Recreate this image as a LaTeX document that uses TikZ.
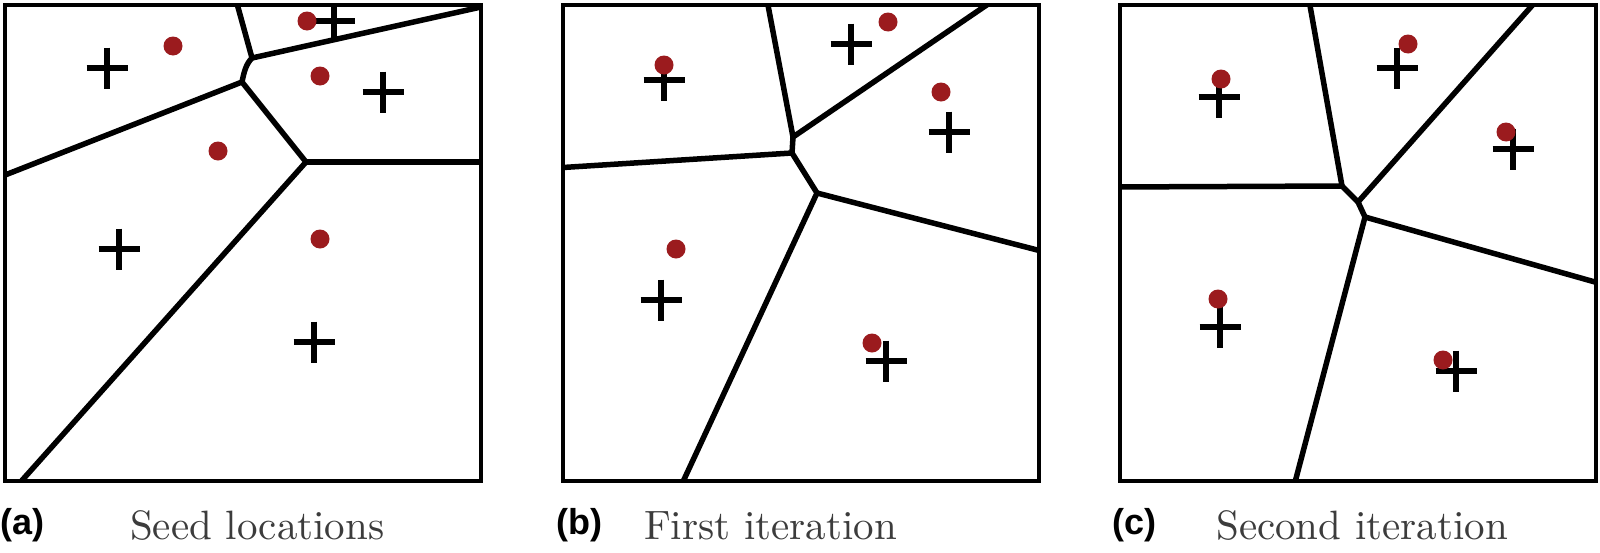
\documentclass[tikz,border=0pt]{standalone}
\usepackage{fontspec}
\newfontfamily\labfont{Liberation Sans}
\newfontfamily\capfont{lmroman10-regular.otf}
\definecolor{seedred}{RGB}{155,27,30}
\definecolor{capgray}{RGB}{60,60,60}
\begin{document}
\begin{tikzpicture}[x=1pt,y=-1pt,
  frame/.style={line width=4pt,draw=black},
  cellline/.style={line width=5.5pt,draw=black,line join=round},
  seed/.style={fill=seedred,draw=none},
  centroid/.style={line width=6.5pt,draw=black,line cap=butt},
  sublabel/.style={inner sep=0pt,anchor=base west,font={\labfont\bfseries\fontsize{36}{42}\selectfont}},
  caption/.style={inner sep=0pt,anchor=base west,text=capgray,font={\capfont\fontsize{41}{48}\selectfont}}]
\useasboundingbox (0,0) rectangle (1600,552);
\fill[white] (0,0) rectangle (1600,552);
\newcommand{\plusmark}[2]{\draw[centroid] (#1-20.5,#2) -- (#1+20.5,#2) (#1,#2-20.5) -- (#1,#2+20.5);}
\newcommand{\seeddot}[2]{\fill[seed] (#1,#2) circle[radius=9.5];}
% ---------------- panel (a)
\begin{scope}
\clip (5,5) rectangle (481,481);
\coordinate (a1) at (252,58);
\coordinate (a2) at (242,82);
\coordinate (a3) at (306,162);
\draw[cellline] (236,0) -- (a1);
\draw[cellline] (a1) -- (490,5);
\draw[cellline] (a1) .. controls (246,64) and (244,72) .. (a2);
\draw[cellline] (a2) -- (0,177);
\draw[cellline] (a2) -- (a3);
\draw[cellline] (a3) -- (490,162);
\draw[cellline] (a3) -- (17,486);
\plusmark{107}{68}
\plusmark{334}{21}
\plusmark{383}{92}
\plusmark{119}{249}
\plusmark{314}{342}
\seeddot{173}{46}
\seeddot{307}{21}
\seeddot{320}{76}
\seeddot{218}{151}
\seeddot{320}{239}
\end{scope}
\draw[frame] (5,5) rectangle (481,481);
% ---------------- panel (b)
\begin{scope}
\clip (563,5) rectangle (1039,481);
\coordinate (b1) at (793,137);
\coordinate (b2) at (792,153);
\coordinate (b3) at (817,193);
\draw[cellline] (767,0) -- (b1);
\draw[cellline] (b1) -- (994,0);
\draw[cellline] (b1) -- (b2);
\draw[cellline] (b2) -- (555,168);
\draw[cellline] (b2) -- (b3);
\draw[cellline] (b3) -- (1045,252);
\draw[cellline] (b3) -- (681,486);
\plusmark{664}{80}
\plusmark{851}{44}
\plusmark{949}{132}
\plusmark{661}{300}
\plusmark{886}{361}
\seeddot{664}{65}
\seeddot{888}{22}
\seeddot{941}{92}
\seeddot{676}{249}
\seeddot{872}{343}
\end{scope}
\draw[frame] (563,5) rectangle (1039,481);
% ---------------- panel (c)
\begin{scope}
\clip (1120,5) rectangle (1596,481);
\coordinate (c1) at (1342,186);
\coordinate (c2) at (1358,202);
\coordinate (c3) at (1365,217);
\draw[cellline] (1309,0) -- (c1);
\draw[cellline] (1110,187) -- (c1);
\draw[cellline] (c1) -- (c2);
\draw[cellline] (c2) -- (1537,0);
\draw[cellline] (c2) -- (c3);
\draw[cellline] (c3) -- (1602,284);
\draw[cellline] (c3) -- (1294,486);
\plusmark{1219}{97}
\plusmark{1397}{68}
\plusmark{1513}{149}
\plusmark{1220}{327}
\plusmark{1456}{371}
\seeddot{1221}{79}
\seeddot{1408}{44}
\seeddot{1506}{132}
\seeddot{1218}{299}
\seeddot{1443}{360}
\end{scope}
\draw[frame] (1120,5) rectangle (1596,481);
% ---------------- labels
\node[sublabel] (la) at (0,534) {(a)};
\node[caption] (ca) at (130,539) {Seed locations};
\node[sublabel] (lb) at (556,534) {(b)};
\node[caption] (cb) at (644,539) {First iteration};
\node[sublabel] (lc) at (1112,534) {(c)};
\node[caption] (cc) at (1216,539) {Second iteration};
\end{tikzpicture}
\end{document}
